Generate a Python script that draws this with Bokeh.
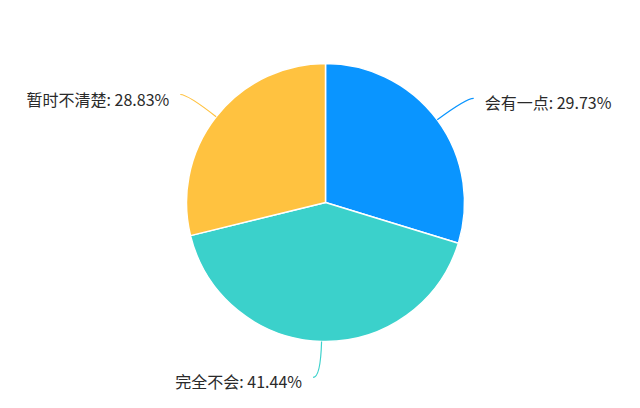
import numpy as np
from bokeh.plotting import figure
from bokeh.models import Range1d, ColumnDataSource
from bokeh.core.properties import value
from bokeh.embed import file_html
from bokeh.resources import INLINE

# data
categories = ["会有一点", "完全不会", "暂时不清楚"]
percents = [29.73, 41.44, 28.83]
colors = ["#0A95FF", "#3BD1CB", "#FFC240"]

W, H = 624, 392
p = figure(width=W, height=H, x_range=Range1d(0, W), y_range=Range1d(0, H),
           output_backend="svg", toolbar_location=None, min_border=0)
p.axis.visible = False
p.grid.visible = False
p.outline_line_color = None
p.background_fill_color = "white"
p.border_fill_color = "white"

cx, cy, r = 325, 190, 139
frac = np.array(percents) / 100.0
cum = np.concatenate([[0], np.cumsum(frac)])
start = np.pi / 2 - cum[:-1] * 2 * np.pi
end = np.pi / 2 - cum[1:] * 2 * np.pi

src = ColumnDataSource(dict(start=start, end=end, color=colors))
p.wedge(x=cx, y=cy, radius=r, start_angle="start", end_angle="end",
        direction="clock", fill_color="color", line_color="white",
        line_width=1.5, source=src)

L1, L2, gap = 36, 7.5, 11
mid = (cum[:-1] + cum[1:]) / 2 * 2 * np.pi  # clockwise from top
for i, (cat, pct, col) in enumerate(zip(categories, percents, colors)):
    dx, dy = np.sin(mid[i]), np.cos(mid[i])
    x0, y0 = cx + r * dx, cy + r * dy
    x1, y1 = cx + (r + L1) * dx, cy + (r + L1) * dy
    side = 1 if dx > 0 else -1
    x2, y2 = x1 + side * L2, y1
    p.quadratic(x0=[x0], y0=[y0], x1=[x2], y1=[y2], cx=[x1], cy=[y1],
                line_color=col, line_width=1.2)
    p.text(x=[x2 + side * gap], y=[y2 - 4], text=[f"{cat}: {pct:.2f}%"],
           text_font=value("Noto Sans CJK SC"), text_font_size="16px",
           text_color="#2a2a2a", text_baseline="middle",
           text_align="left" if side > 0 else "right")

open("out.html", "w").write(file_html(p, INLINE))
